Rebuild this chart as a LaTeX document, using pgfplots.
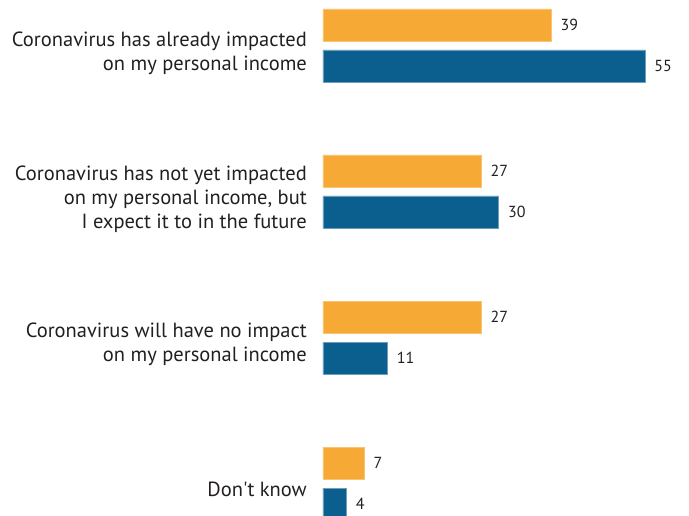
\documentclass[border=0pt]{standalone}
\usepackage{pgfplots}
\pgfplotsset{compat=1.18}
\usepackage{fontspec}
\setmainfont{PT Sans}
\definecolor{barorange}{HTML}{F6A934}
\definecolor{barblue}{HTML}{0B5F8F}
\definecolor{txt}{HTML}{231F20}
\begin{document}
\begin{tikzpicture}
\begin{axis}[
    xbar,
    scale only axis,
    width=366pt,
    height=516pt,
    xmin=0, xmax=62.56,
    ymin=0, ymax=516,
    y dir=reverse,
    axis line style={draw=none},
    tick style={draw=none},
    major tick length=0pt,
    xtick=\empty,
    ytick={53,199,344,489},
    yticklabels={
        {Coronavirus has already impacted\\on my personal income},
        {Coronavirus has not yet impacted\\on my personal income, but\\I expect it to in the future},
        {Coronavirus will have no impact\\on my personal income},
        {Don\textquotesingle t know}
    },
    yticklabel style={font=\fontsize{20.5}{24}\selectfont, color=txt, align=right, inner sep=0pt, xshift=-16pt},
    bar width=32pt,
    bar shift=0pt,
    nodes near coords,
    /pgf/number format/assume math mode=true,
    nodes near coords style={font=\fontsize{16}{18}\selectfont, color=txt, anchor=west, xshift=6pt},
]
\addplot[fill=barorange, draw=barorange!70!white, line width=0.5pt] coordinates {
    (39,25) (27,171) (27,317) (7,463)
};
\addplot[fill=barblue, draw=barblue!60!white, line width=0.5pt] coordinates {
    (55,66) (30,212) (11,358) (4,504)
};
\end{axis}
\pgfresetboundingbox
\useasboundingbox (-323pt,0pt) rectangle (366pt,516pt);
\end{tikzpicture}
\end{document}
